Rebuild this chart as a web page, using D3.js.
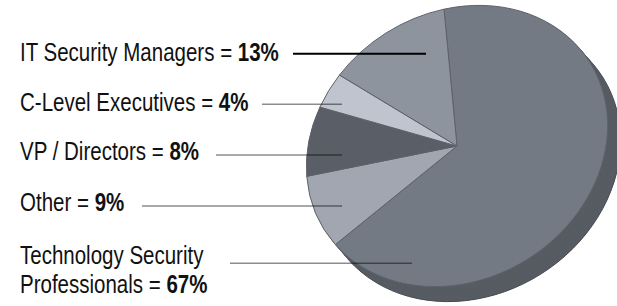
<!DOCTYPE html>
<html>
<head>
<meta charset="utf-8">
<script src="https://cdn.jsdelivr.net/npm/d3@7"></script>
<style>
  body { margin: 0; background: #fff; }
  text { font-family: "Liberation Sans", Arial, sans-serif; }
</style>
</head>
<body>
<svg id="chart" width="617" height="306"></svg>
<script>
// data, in label order (top to bottom)
const categories = ["IT Security Managers", "C-Level Executives", "VP / Directors", "Other", "Technology Security Professionals"];
const values = [13, 4, 8, 9, 67];
const colors = ["#8e949e", "#bfc4cf", "#5a5e66", "#a1a6b0", "#747a84"];

// label layout: baselines, leader lines
const labelLines = [["IT Security Managers = "], ["C-Level Executives = "], ["VP / Directors = "], ["Other = "], ["Technology Security", "Professionals = "]];
const labelY = [61.5, 111, 160.5, 211.5, 264];
const leaderY = [53.7, 104.3, 155, 206, 263.3];
const leaderX = [[293, 426], [262, 342], [216, 342], [142, 342], [230, 412]];

const svg = d3.select("#chart");
const cx = 457, cy = 146, radius = 157;
const depth = 16, offX = 13, offY = 15;
const tilt = "rotate(-32.4) scale(1,0.85) rotate(32.4)";
const squeeze = 0.82; // fake a condensed face

const rows = categories.map((c, i) => ({ name: c, value: values[i], color: colors[i], i }));

// pie goes clockwise from top: Tech, Other, VP, C-Level, IT
const pie = d3.pie()
  .sort(null)
  .value(d => d.value)
  .startAngle(-9 * Math.PI / 180)
  .endAngle(351 * Math.PI / 180);
const arcs = pie(rows.slice().reverse());
const arc = d3.arc().innerRadius(0).outerRadius(radius);

// side (extrusion), back to front
for (let s = depth; s >= 1; s--) {
  const g = svg.append("g")
    .attr("transform", `translate(${cx + offX * s / depth},${cy + offY * s / depth}) ${tilt}`);
  g.selectAll("path")
    .data(arcs)
    .join("path")
    .attr("d", arc)
    .attr("fill", d => d3.color(d.data.color).darker(0.8))
    .attr("stroke", s === depth ? "#464950" : "none")
    .attr("vector-effect", "non-scaling-stroke");
}

// top face
const face = svg.append("g").attr("transform", `translate(${cx},${cy}) ${tilt}`);
face.selectAll("path")
  .data(arcs)
  .join("path")
  .attr("d", arc)
  .attr("fill", d => d.data.color)
  .attr("stroke", "#5e626a")
  .attr("stroke-width", 1)
  .attr("stroke-linejoin", "round")
  .attr("vector-effect", "non-scaling-stroke");

// leader lines
svg.append("g")
  .selectAll("line")
  .data(rows)
  .join("line")
  .attr("x1", d => leaderX[d.i][0])
  .attr("x2", d => leaderX[d.i][1])
  .attr("y1", d => leaderY[d.i])
  .attr("y2", d => leaderY[d.i])
  .attr("stroke", "#000")
  .attr("stroke-opacity", d => d.i === 0 ? 1 : 0.45)
  .attr("stroke-width", d => d.i === 0 ? 2 : 1.6);

// labels
const labels = svg.append("g")
  .attr("transform", `translate(20,0) scale(${squeeze},1)`)
  .selectAll("text")
  .data(rows)
  .join("text")
  .attr("x", 0)
  .attr("y", d => labelY[d.i])
  .attr("font-size", 25)
  .attr("fill", "#111");

labels.each(function (d) {
  const t = d3.select(this);
  const lines = labelLines[d.i];
  lines.forEach((ln, k) => {
    const ts = t.append("tspan").text(ln);
    if (k > 0) ts.attr("x", 0).attr("dy", 29);
  });
  t.append("tspan")
    .attr("font-weight", "bold")
    .text(d.value + "%");
});
</script>
</body>
</html>
